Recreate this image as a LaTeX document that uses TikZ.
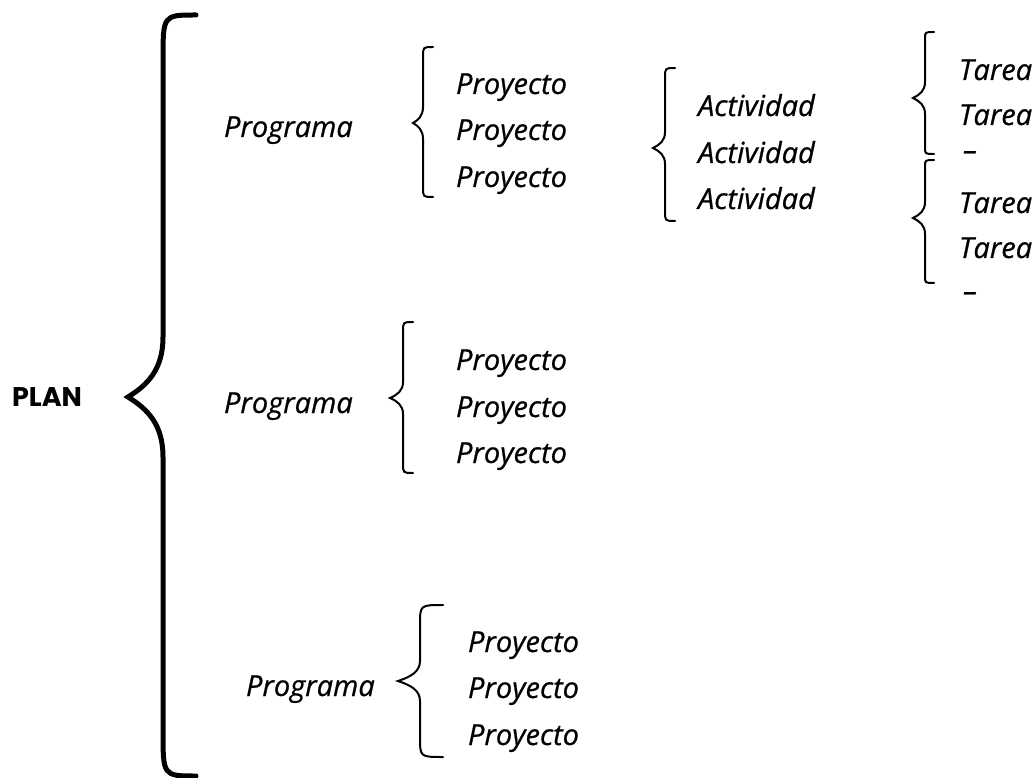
\documentclass[tikz,border=0pt]{standalone}
\usepackage{fontspec}
\setmainfont{Open Sans}
\newfontfamily\planfont{Poppins}
% curly bracket: end x, stem x, tip x, top y, tip y, bottom y, end curl, tip curl
\newcommand{\llave}[8]{%
  \draw (#1,#4) .. controls (#2,#4) .. (#2,{#4+#7}) -- (#2,{#5-#8})
    .. controls (#2,{#5-0.45*#8}) and ({#2-0.45*(#2-#3)},{#5-0.2*#8}) .. (#3,#5)
    .. controls ({#2-0.45*(#2-#3)},{#5+0.2*#8}) and (#2,{#5+0.45*#8}) .. (#2,{#5+#8})
    -- (#2,{#6-#7}) .. controls (#2,#6) .. (#1,#6);}
\tikzset{
  texto/.style={font=\fontsize{29}{31}\selectfont\itshape\addfontfeatures{FakeBold=0.7},
    anchor=base west, inner sep=0pt},
  titulo/.style={font=\fontsize{27}{29}\selectfont\planfont\bfseries, inner sep=0pt},
}
\begin{document}
\begin{tikzpicture}[x=1pt,y=-1pt,line cap=round,line width=2pt]
\useasboundingbox (0,0) rectangle (1034,778);
% Plan
\node[titulo] (plan) at (47,397) {PLAN};
\begin{scope}[line width=5pt]
\llave{196}{163}{128}{15}{397}{776}{45}{60}
\end{scope}
% Programas
\node[texto] (prog1) at (223,137) {Programa};
\node[texto] (prog2) at (223,413) {Programa};
\node[texto] (prog3) at (245,696) {Programa};
% Proyectos del primer programa
\llave{433}{423}{413}{47}{123}{197}{10}{16}
\node[texto] (proy11) at (455,94) {Proyecto};
\node[texto] (proy12) at (455,140) {Proyecto};
\node[texto] (proy13) at (455,187) {Proyecto};
% Actividades
\llave{675}{665}{653}{68}{148}{221}{10}{16}
\node[texto] (act1) at (697,116) {Actividad};
\node[texto] (act2) at (697,163) {Actividad};
\node[texto] (act3) at (697,209) {Actividad};
% Tareas
\llave{934}{925}{913}{32}{98}{154}{7}{16}
\llave{934}{925}{913}{160}{218}{283}{7}{16}
\node[texto] (tarea1) at (958,80) {Tarea};
\node[texto] (tarea2) at (958,125) {Tarea};
\node[texto] (guion1) at (962,160) {--};
\node[texto] (tarea3) at (958,213) {Tarea};
\node[texto] (tarea4) at (958,258) {Tarea};
\node[texto] (guion2) at (962,301) {--};
% Proyectos del segundo programa
\llave{413}{403}{390}{322}{398}{473}{10}{16}
\node[texto] (proy21) at (455,370) {Proyecto};
\node[texto] (proy22) at (455,417) {Proyecto};
\node[texto] (proy23) at (455,463) {Proyecto};
% Proyectos del tercer programa
\llave{443}{420}{398}{605}{681}{757}{20}{20}
\node[texto] (proy31) at (467,652) {Proyecto};
\node[texto] (proy32) at (467,698) {Proyecto};
\node[texto] (proy33) at (467,745) {Proyecto};
\end{tikzpicture}
\end{document}
